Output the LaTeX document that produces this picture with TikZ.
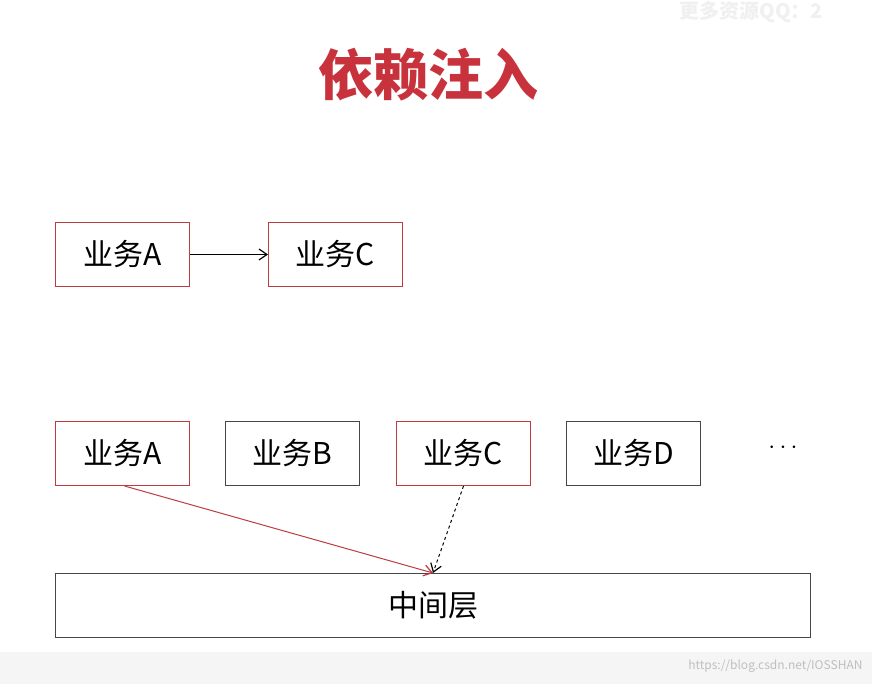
\documentclass[tikz,border=0pt]{standalone}
\usepackage{fontspec}
\setmainfont{Noto Sans CJK SC}
\setsansfont{Liberation Sans}
\usetikzlibrary{arrows.meta}
\definecolor{tred}{RGB}{200,50,60}
\definecolor{bred}{RGB}{190,60,65}
\definecolor{bgray}{RGB}{70,70,70}
\tikzset{
  biz/.style={draw=#1, line width=1pt, minimum width=134pt, minimum height=64pt, inner sep=0pt, font=\fontsize{30}{34}\selectfont, anchor=north west},
  tip/.style={-{Straight Barb[length=8pt,width=11pt,line width=1.2pt]}},
}
\begin{document}
\begin{tikzpicture}[x=1pt,y=-1pt]
\useasboundingbox (0,0) rectangle (872,684);
\fill[white] (0,0) rectangle (872,684);
\fill[black!4] (0,652) rectangle (872,684);
\node[font=\fontsize{55}{60}\selectfont\bfseries, text=tred] (title) at (428,75) {依赖注入};
\node[text=black!6, font=\fontsize{20}{24}\selectfont\bfseries, anchor=west] (wm1) at (676,12) {更多资源QQ：2};
\node[text=black!25, font=\fontsize{12}{14}\selectfont, anchor=east] (wm2) at (866,666) {https://blog.csdn.net/IOSSHAN};
\node[biz=bred] (a1) at (55,222) {业务A};
\node[biz=bred] (c1) at (268,222) {业务C};
\draw[tip, line width=1pt] (a1) -- (c1);
\node[biz=bred] (a2) at (55,421) {业务A};
\node[biz=bgray] (b2) at (225,421) {业务B};
\node[biz=bred] (c2) at (396,421) {业务C};
\node[biz=bgray] (d2) at (566,421) {业务D};
\node[font=\fontsize{34}{38}\selectfont] (dots) at (783,448) {$\cdots$};
\node[draw=bgray, line width=1pt, minimum width=755pt, minimum height=64pt, anchor=north west, font=\fontsize{30}{34}\selectfont] (mid) at (55,573) {中间层};
\coordinate (t) at (433,573);
\draw[bred, line width=1pt, tip] (a2.south) ++(2,0) coordinate (as) (as) -- (t);
\draw[dashed, line width=1pt, tip] (c2.south) ++(0,0) coordinate (cs) (cs) -- (t);
\end{tikzpicture}
\end{document}
